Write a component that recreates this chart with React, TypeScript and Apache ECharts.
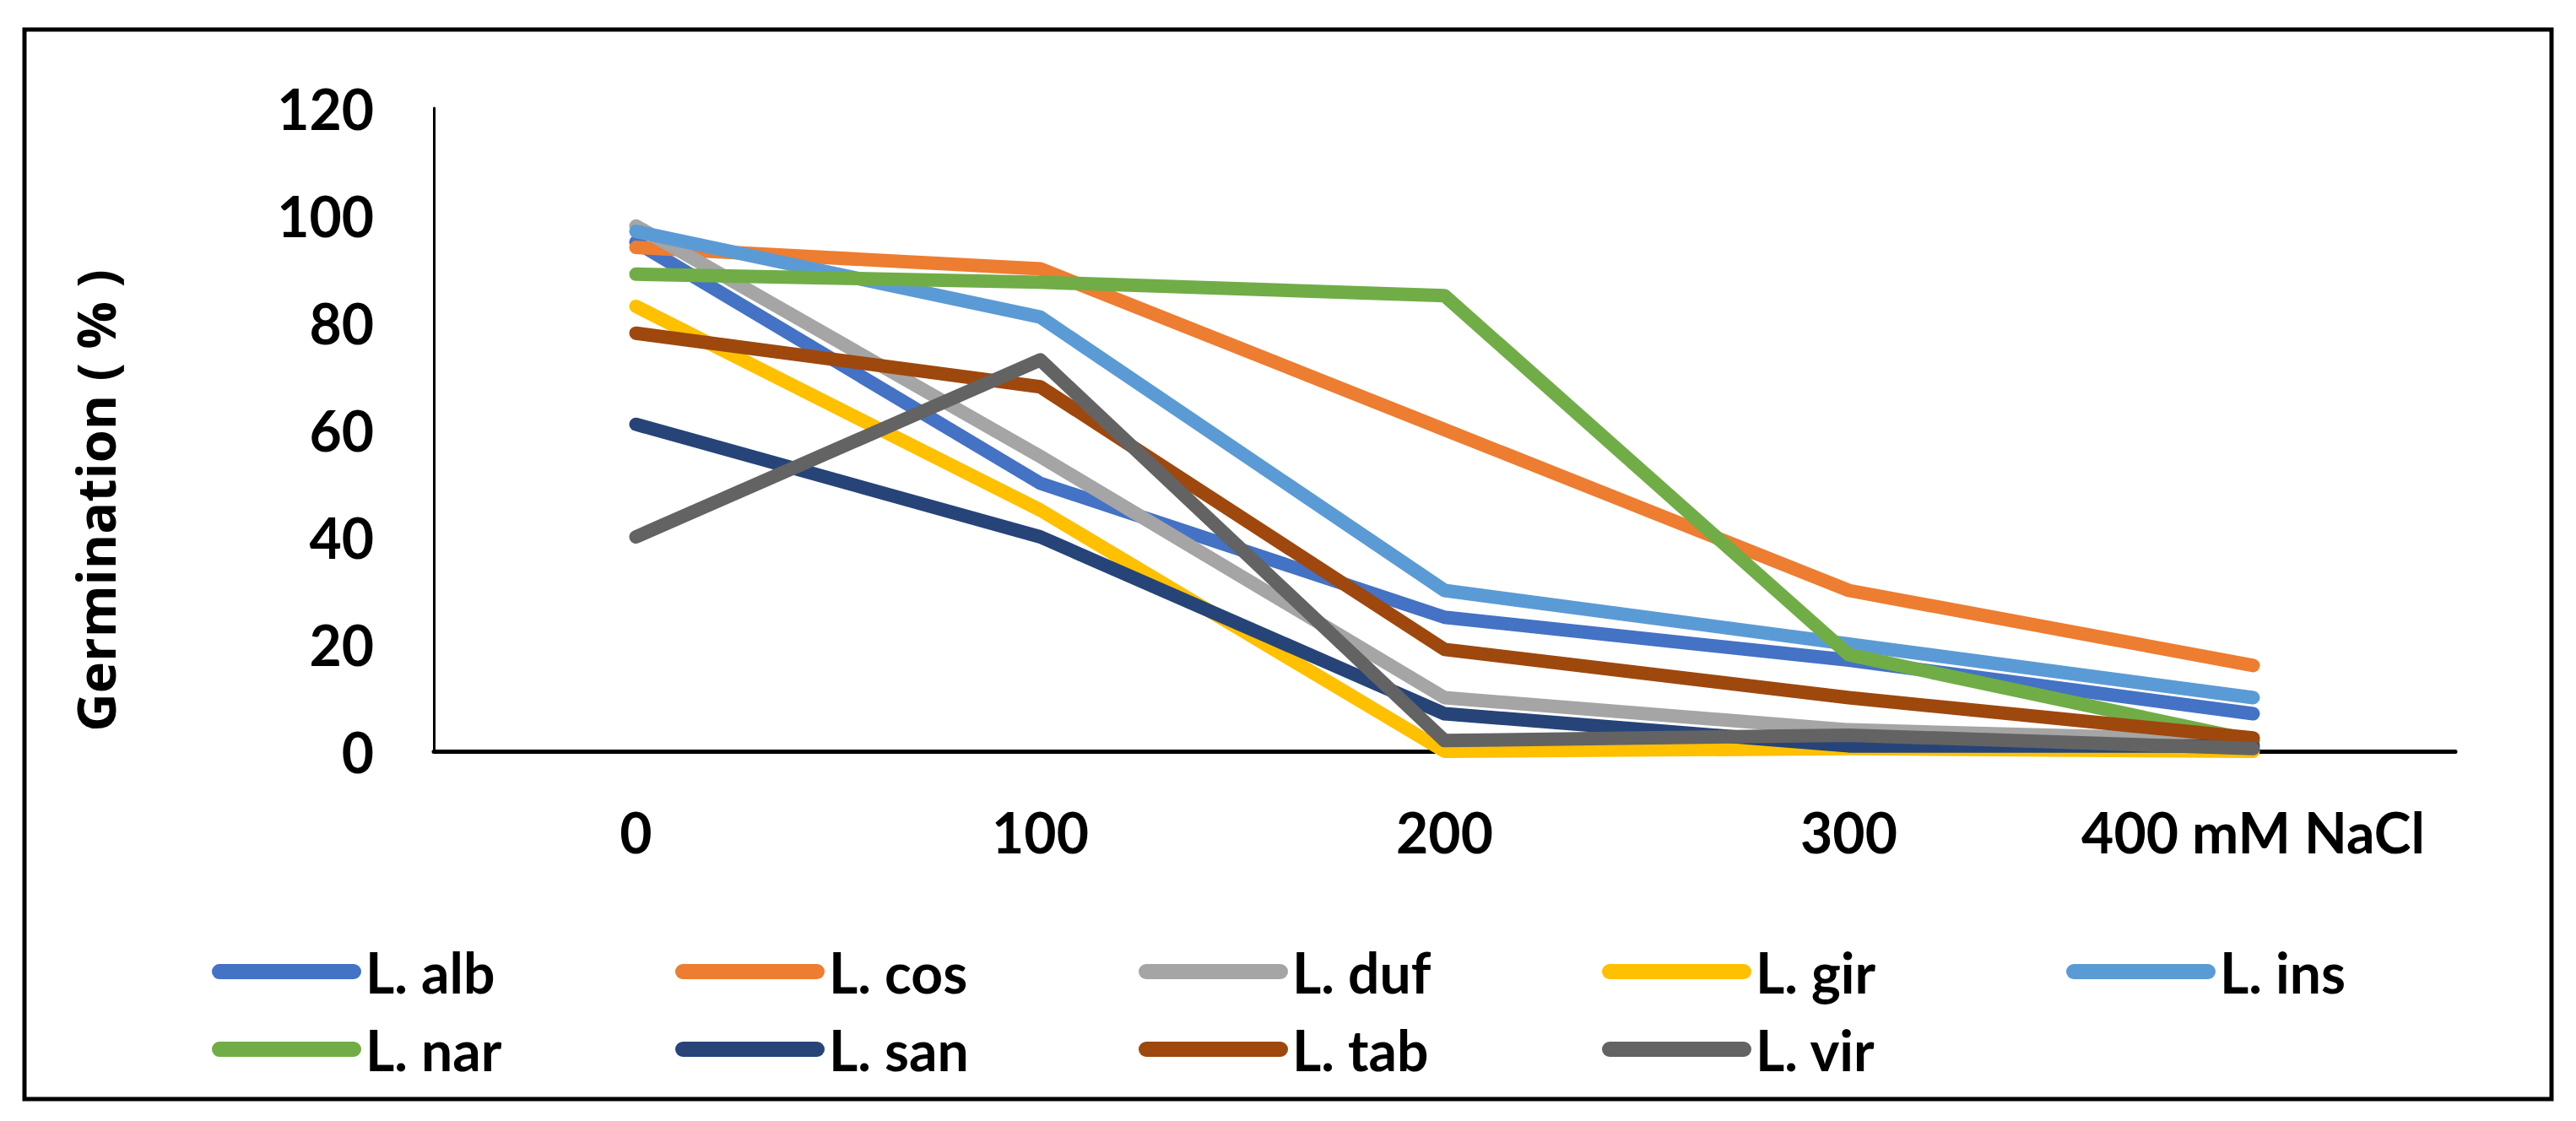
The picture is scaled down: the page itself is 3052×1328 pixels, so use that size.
import React, { useEffect, useRef } from "react";
import * as echarts from "echarts";

const categories = ["0", "100", "200", "300", "400 mM NaCl"];
const yTicks = { min: 0, max: 120, interval: 20 };

const seriesNames = ["L. alb", "L. cos", "L. duf", "L. gir", "L. ins", "L. nar", "L. san", "L. tab", "L. vir"];
const seriesColors = ["#4472C4", "#ED7D31", "#A5A5A5", "#FFC000", "#5B9BD5", "#70AD47", "#264478", "#9E480E", "#636363"];

const lAlb = [95, 50, 25, 17, 7];
const lCos = [94, 90, 60, 30, 16];
const lDuf = [98, 55, 10, 4, 2];
const lGir = [83, 45, 0, 0.5, 0];
const lIns = [97, 81, 30, 20, 10];
const lNar = [89, 87.5, 85, 18, 2];
const lSan = [61, 40, 7, 1, 1];
const lTab = [78, 68, 19, 10, 2.5];
const lVir = [40, 73, 2, 3, 0.5];

const seriesValues = [lAlb, lCos, lDuf, lGir, lIns, lNar, lSan, lTab, lVir];

const yTitle = "Germination ( % )";

const TICK_FONT = "Lato, 'Open Sans', sans-serif";
const TITLE_FONT = "'Open Sans', 'DejaVu Sans', sans-serif";

// legend layout (positions only)
const legendLefts = [251, 800, 1349, 1898, 2448, 251, 800, 1349, 1898];
const legendTops = [1111, 1111, 1111, 1111, 1111, 1203, 1203, 1203, 1203];

export default function App() {
  const ref = useRef<HTMLDivElement>(null);
  useEffect(() => {
    document.body.style.margin = "0";
    if (!ref.current) return;
    const chart = echarts.init(ref.current, null, { renderer: "svg" });
    const legendIcon = "path://M9,0 L168,0 A9,9 0 0 1 168,18 L9,18 A9,9 0 0 1 9,0 Z";
    const option: any = {
      animation: false,
      backgroundColor: "#ffffff",
      grid: { left: 514, right: 143, top: 128, bottom: 438, containLabel: false },
      xAxis: {
        type: "category",
        data: categories,
        boundaryGap: true,
        axisLine: { show: true, lineStyle: { color: "#000", width: 5 } },
        axisTick: { show: false },
        axisLabel: {
          interval: 0,
          color: "#000",
          fontFamily: TICK_FONT,
          fontWeight: "bold",
          fontSize: 66,
          margin: 62,
        },
        splitLine: { show: false },
      },
      yAxis: {
        type: "value",
        min: yTicks.min,
        max: yTicks.max,
        interval: yTicks.interval,
        axisLine: { show: true, lineStyle: { color: "#000", width: 3 } },
        axisTick: { show: false },
        splitLine: { show: false },
        axisLabel: {
          color: "#000",
          fontFamily: TICK_FONT,
          fontWeight: "bold",
          fontSize: 66,
          margin: 71,
        },
      },
      legend: seriesNames.map((name, i) => ({
        data: [name],
        left: legendLefts[i],
        top: legendTops[i],
        padding: 0,
        icon: legendIcon,
        itemWidth: 177,
        itemHeight: 18,
        itemGap: 0,
        selectedMode: false,
        textStyle: {
          color: "#000",
          fontFamily: TICK_FONT,
          fontWeight: "bold",
          fontSize: 66,
          lineHeight: 80,
        },
      })),
      series: seriesNames.map((name, i) => ({
        name,
        type: "line",
        data: seriesValues[i],
        symbol: "none",
        showSymbol: false,
        color: seriesColors[i],
        lineStyle: { color: seriesColors[i], width: 16, cap: "round", join: "round" },
        emphasis: { disabled: true },
      })),
      graphic: [
        {
          type: "rect",
          shape: { x: 29, y: 35, width: 2994, height: 1267 },
          style: { fill: "none", stroke: "#000", lineWidth: 5 },
          silent: true,
        },
        {
          type: "text",
          x: 112,
          y: 593,
          rotation: Math.PI / 2,
          style: {
            text: yTitle,
            fill: "#000",
            font: `bold 63px ${TITLE_FONT}`,
            textAlign: "center",
            textVerticalAlign: "middle",
          },
          silent: true,
        },
      ],
    };
    chart.setOption(option);
    return () => chart.dispose();
  }, []);
  return <div ref={ref} style={{ width: 3052, height: 1328 }} />;
}
